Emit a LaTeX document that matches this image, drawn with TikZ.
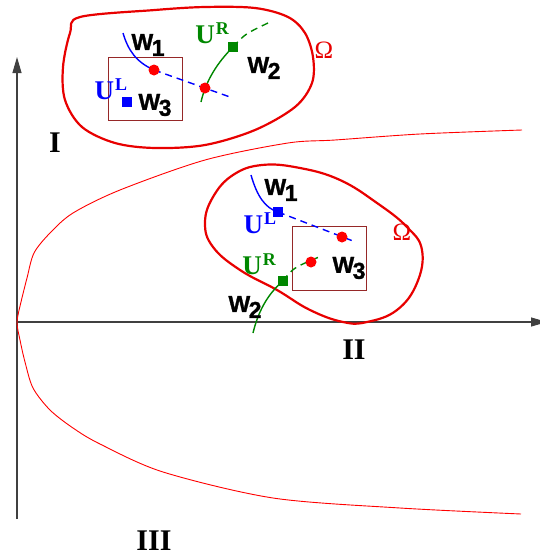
\documentclass[tikz,border=0pt]{standalone}
\usepackage{fontspec}
\setmainfont{Liberation Serif}
\newfontfamily\wfont[FakeBold=1.2]{Liberation Sans Bold}
\usetikzlibrary{arrows.meta}
\definecolor{omegared}{RGB}{232,0,0}
\definecolor{boxbrown}{RGB}{150,40,40}
\definecolor{ugreen}{RGB}{0,135,0}
\newcommand{\wlab}[1]{{\wfont W\kern-1.5pt\raisebox{-6pt}{#1}}}
\newcommand{\ulab}[1]{{\bfseries U\kern1pt\raisebox{9pt}{\fontsize{18}{18}\selectfont #1}}}

\begin{document}
\begin{tikzpicture}[
    x=1pt, y=-1pt,
    axis/.style={draw=black!75, line width=1.1pt, -{Triangle[length=16pt, width=9pt]}},
    region/.style={font=\fontsize{30}{30}\selectfont\bfseries, inner sep=0pt},
    wlabel/.style={font=\fontsize{23}{23}\selectfont, inner sep=0pt},
    ulabel/.style={font=\fontsize{27}{27}\selectfont, inner sep=0pt},
    omlabel/.style={font=\fontsize{25}{25}\selectfont, text=omegared, inner sep=0pt},
    blobline/.style={draw=omegared, line width=2.2pt},
    bound/.style={draw=red, line width=0.9pt},
    window/.style={draw=boxbrown, line width=1pt},
    state/.style={circle, fill=red, minimum size=11pt, inner sep=0pt},
    lstate/.style={rectangle, fill=blue, minimum size=10pt, inner sep=0pt},
    rstate/.style={rectangle, fill=ugreen, minimum size=10pt, inner sep=0pt},
    lcurve/.style={draw=blue, line width=1.4pt},
    rcurve/.style={draw=ugreen, line width=1.4pt},
    wave/.style={dash pattern=on 7pt off 5pt}
]
\useasboundingbox (0,0) rectangle (540,560);

\coordinate (O) at (17,322);
\coordinate (ytop) at (17,57);
\coordinate (ybot) at (17,519);
\coordinate (xend) at (547,322);
\draw[axis] (ybot) -- (ytop);
\draw[axis] (O) -- (xend);

\draw[bound] plot[smooth, tension=0.5] coordinates {(522,130) (420,134) (335,140) (288,143) (205,160) (120,190) (73,213) (50,233) (34,253) (27,278) (21,302) (17,322) (20,340) (25,362) (33,388) (50,410) (73,428) (100,444) (163,472) (273,498) (400,508) (521,514)};

\node[region] (one) at (55,143) {I};
\node[region] (two) at (354,350) {II};
\node[region] (three) at (154,541) {III};

\draw[blobline] plot[smooth cycle, tension=0.55] coordinates {(80,17) (155,10) (205,7) (255,8) (288,17) (305,33) (313,57) (312,83) (295,107) (255,130) (205,145) (155,148) (115,143) (82,127) (65,100) (63,67) (70,33)};
\draw[window] (108,57) rectangle (182,120);
\node[omlabel] (omup) at (324,50) {Ω};

\coordinate (a0) at (123,33);
\coordinate (a1) at (154,70);
\coordinate (a2) at (205,88);
\coordinate (a3) at (230,97);
\coordinate (b0) at (201,102);
\coordinate (b1) at (233,47);
\coordinate (b2) at (268,23);
\draw[lcurve] (a0) .. controls (128,50) and (136,62) .. (a1);
\draw[lcurve, wave] (a1) -- (a3);
\draw[rcurve] (b0) .. controls (206,80) and (218,62) .. (b1);
\draw[rcurve, wave] (b1) .. controls (245,34) .. (b2);
\node[state] (dotup1) at (a1) {};
\node[state] (dotup2) at (a2) {};
\node[lstate] (lup) at (127,102) {};
\node[rstate] (rup) at (b1) {};

\node[wlabel] (w1up) at (148,45) {\wlab{1}};
\node[wlabel] (w2up) at (264,68) {\wlab{2}};
\node[wlabel] (w3up) at (155,105) {\wlab{3}};
\node[ulabel] (ulup) at (111,89) {\textcolor{blue}{\ulab{L}}};
\node[ulabel] (urup) at (212,33) {\textcolor{ugreen}{\ulab{R}}};

\draw[blobline] plot[smooth cycle, tension=0.7] coordinates {(262,165) (300,168) (340,180) (377,203) (407,227) (422,250) (417,283) (397,310) (367,322) (343,322) (310,310) (277,290) (240,270) (213,247) (205,223) (213,197) (233,175)};
\draw[window] (292,226) rectangle (366,290);
\node[omlabel] (omlow) at (402,232) {Ω};

\coordinate (c0) at (251,175);
\coordinate (c1) at (278,212);
\coordinate (c2) at (342,237);
\coordinate (c3) at (353,241);
\coordinate (d0) at (253,333);
\coordinate (d1) at (283,281);
\coordinate (d2) at (311,262);
\coordinate (d3) at (319,257);
\draw[lcurve] (c0) .. controls (257,196) and (265,208) .. (c1);
\draw[lcurve, wave] (c1) -- (c3);
\draw[rcurve] (d0) .. controls (259,308) and (270,292) .. (d1);
\draw[rcurve, wave] (d1) .. controls (293,268) .. (d3);
\node[state] (dotlow1) at (c2) {};
\node[state] (dotlow2) at (d2) {};
\node[lstate] (llow) at (c1) {};
\node[rstate] (rlow) at (d1) {};

\node[wlabel] (w1low) at (281,190) {\wlab{1}};
\node[wlabel] (w2low) at (245,307) {\wlab{2}};
\node[wlabel] (w3low) at (349,268) {\wlab{3}};
\node[ulabel] (ullow) at (260,223) {\textcolor{blue}{\ulab{L}}};
\node[ulabel] (urlow) at (259,264) {\textcolor{ugreen}{\ulab{R}}};
\end{tikzpicture}
\end{document}
